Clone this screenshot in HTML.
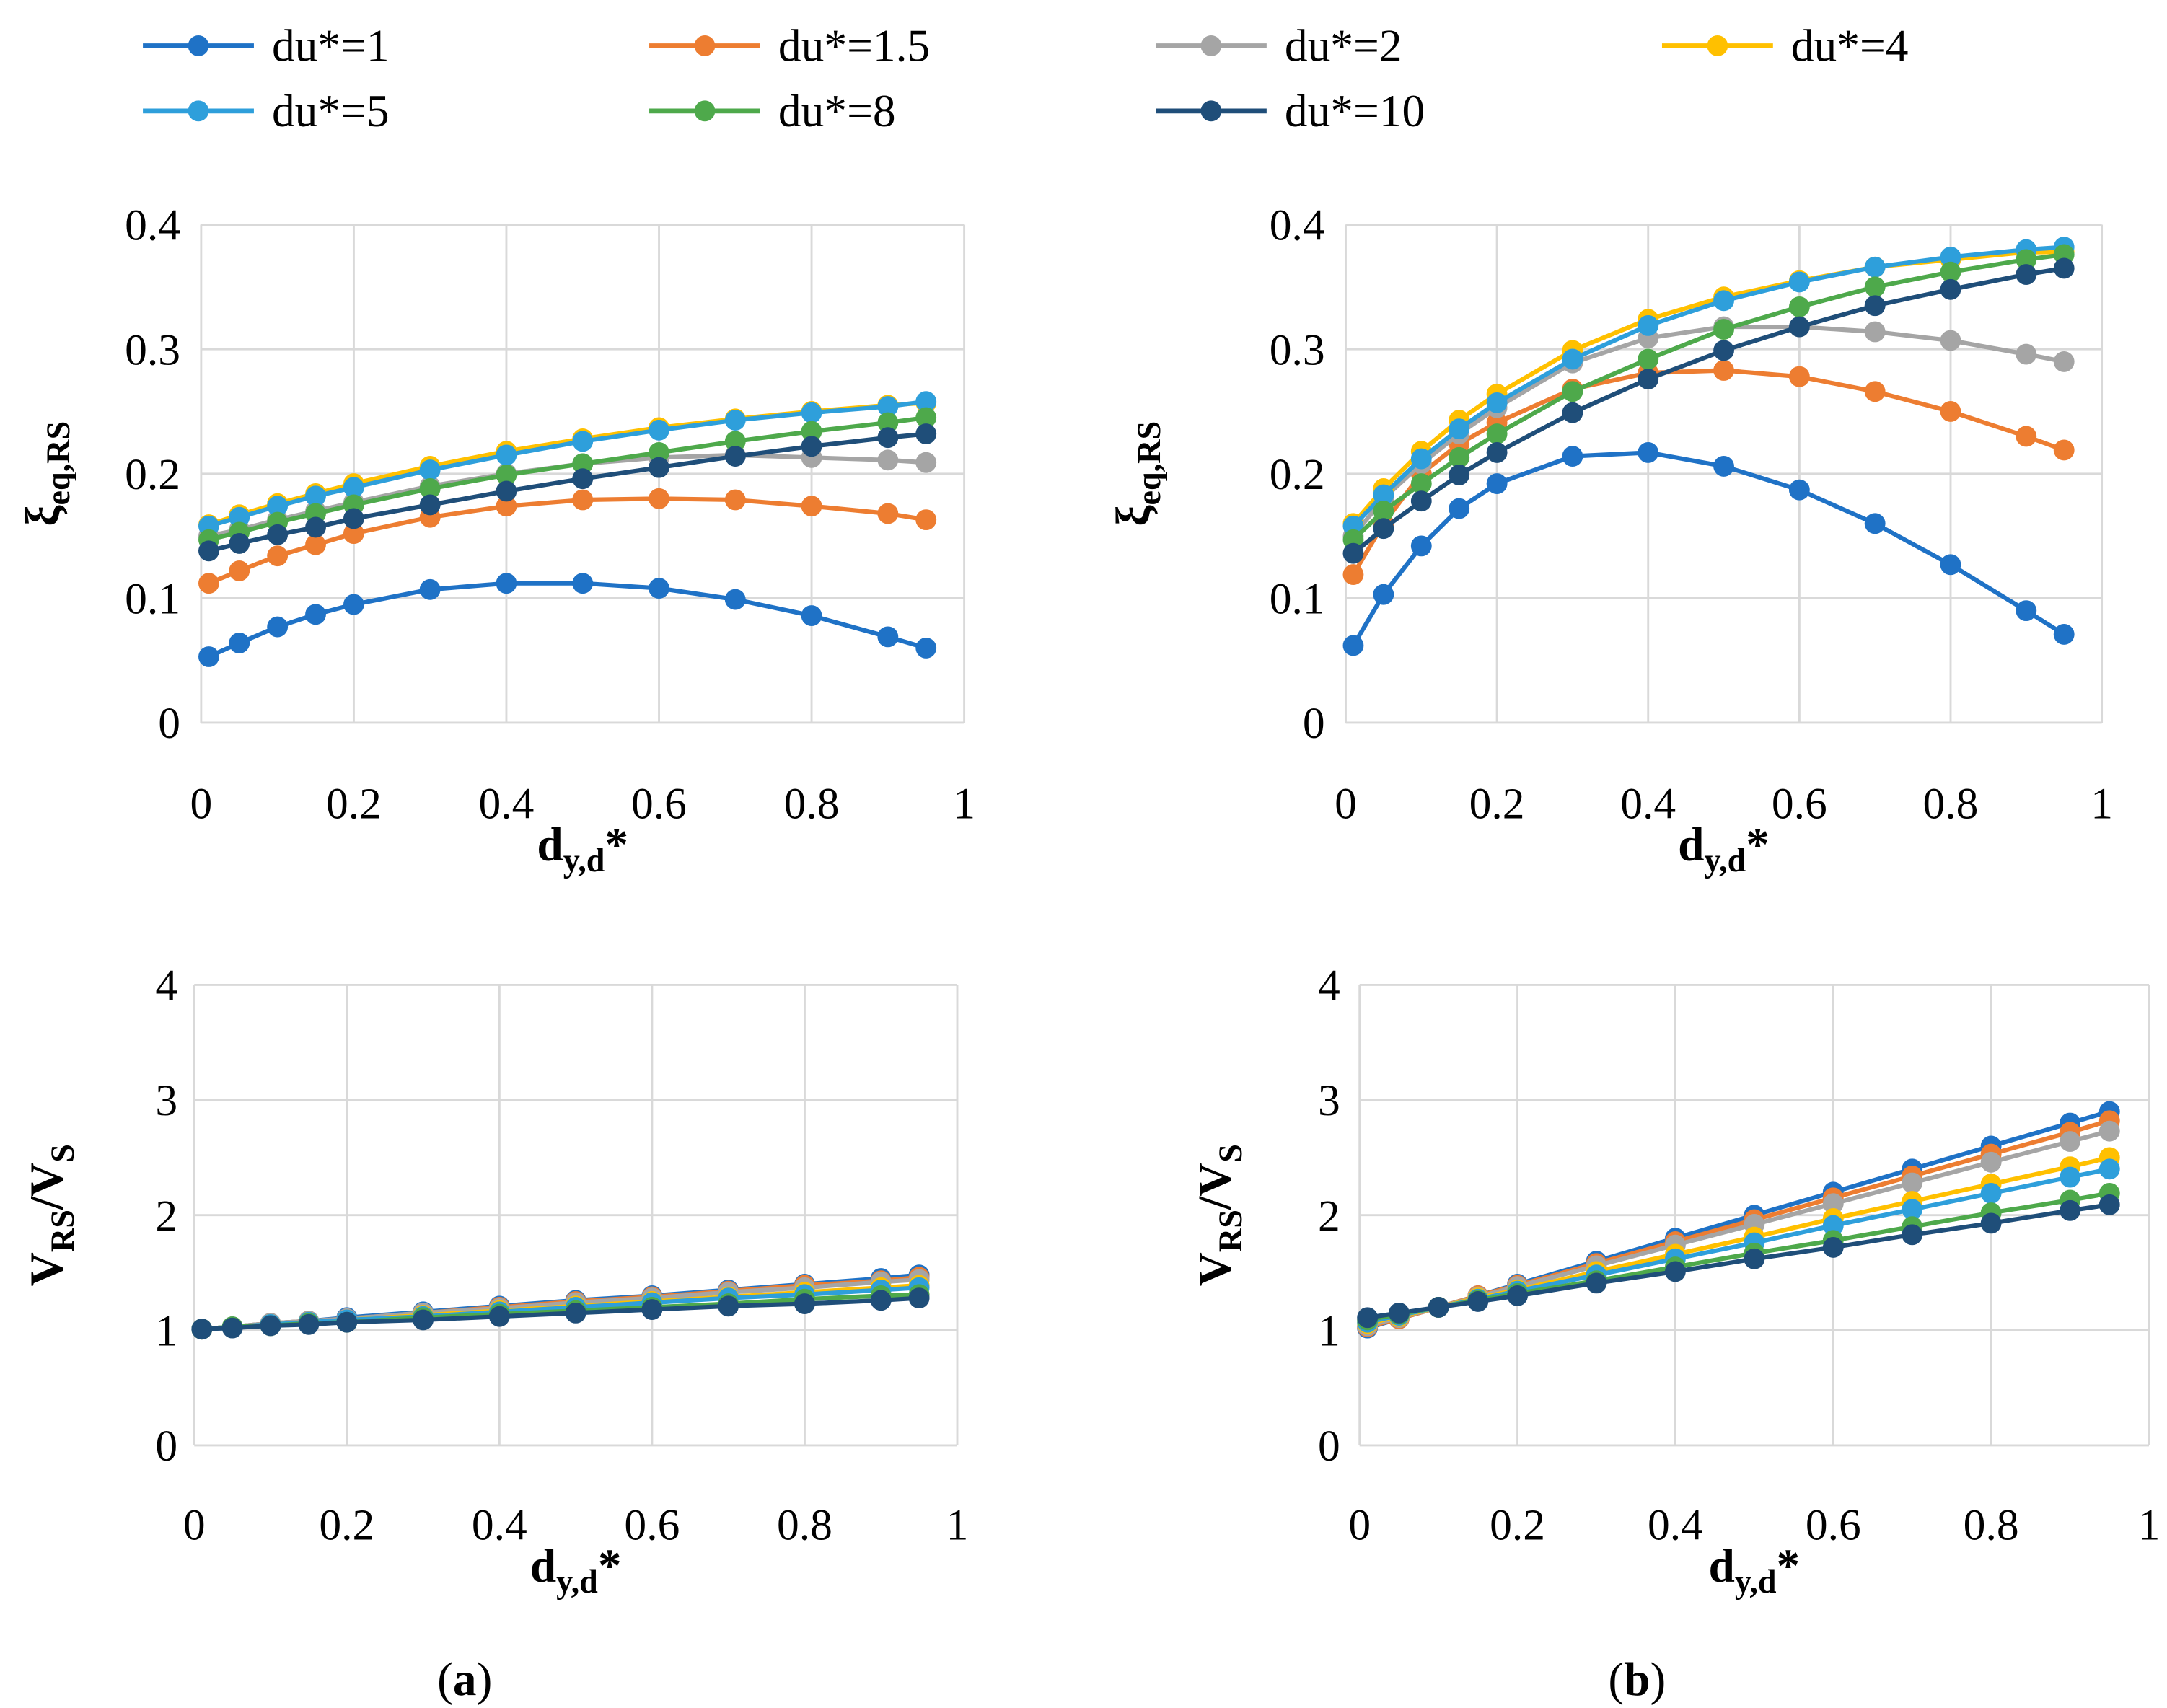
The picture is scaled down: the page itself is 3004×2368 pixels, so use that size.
<!DOCTYPE html>
<html><head><meta charset="utf-8">
<style>
html,body{margin:0;padding:0;background:#fff;}
svg{display:block;font-family:"Liberation Serif",serif;}
text{font-family:"Liberation Serif",serif;fill:#000;}
</style></head>
<body>
<svg id="root" width="3004" height="2368" viewBox="0 0 1562 1231.3" font-family="Liberation Serif, serif" xmlns="http://www.w3.org/2000/svg"></svg>
<script>
const xVals=[0.01,0.05,0.1,0.15,0.2,0.3,0.4,0.5,0.6,0.7,0.8,0.9,0.95];
const seriesNames=["du*=1","du*=1.5","du*=2","du*=4","du*=5","du*=8","du*=10"];
const seriesColors=["#1f72c6","#ed7d31","#a5a5a5","#ffc000","#2e9fdb","#4ea94b","#1f4e79"];
const aXi_du1=[0.053,0.064,0.077,0.087,0.095,0.107,0.112,0.112,0.108,0.099,0.086,0.069,0.060];
const aXi_du15=[0.112,0.122,0.134,0.143,0.152,0.165,0.174,0.179,0.180,0.179,0.174,0.168,0.163];
const aXi_du2=[0.150,0.155,0.163,0.170,0.177,0.190,0.200,0.208,0.213,0.215,0.213,0.211,0.209];
const aXi_du4=[0.159,0.167,0.176,0.184,0.192,0.206,0.218,0.228,0.237,0.244,0.250,0.255,0.257];
const aXi_du5=[0.158,0.165,0.174,0.182,0.189,0.203,0.215,0.226,0.235,0.243,0.249,0.254,0.258];
const aXi_du8=[0.147,0.153,0.161,0.168,0.175,0.188,0.199,0.208,0.217,0.226,0.234,0.241,0.245];
const aXi_du10=[0.138,0.144,0.151,0.157,0.164,0.175,0.186,0.196,0.205,0.214,0.222,0.229,0.232];
const bXi_du1=[0.062,0.103,0.142,0.172,0.192,0.214,0.217,0.206,0.187,0.160,0.127,0.090,0.071];
const bXi_du15=[0.119,0.160,0.200,0.224,0.241,0.268,0.281,0.283,0.278,0.266,0.250,0.230,0.219];
const bXi_du2=[0.150,0.180,0.208,0.232,0.253,0.289,0.309,0.318,0.318,0.314,0.307,0.296,0.290];
const bXi_du4=[0.160,0.188,0.218,0.243,0.264,0.299,0.324,0.342,0.355,0.366,0.372,0.378,0.378];
const bXi_du5=[0.158,0.183,0.212,0.236,0.257,0.292,0.319,0.339,0.354,0.366,0.374,0.380,0.382];
const bXi_du8=[0.147,0.170,0.192,0.213,0.232,0.266,0.292,0.316,0.334,0.350,0.362,0.372,0.376];
const bXi_du10=[0.136,0.156,0.178,0.199,0.217,0.249,0.276,0.299,0.318,0.335,0.348,0.360,0.365];
const aV_du1=[1.01,1.03,1.06,1.08,1.11,1.16,1.21,1.26,1.30,1.35,1.40,1.45,1.48];
const aV_du15=[1.01,1.03,1.06,1.08,1.10,1.15,1.20,1.25,1.29,1.34,1.39,1.43,1.46];
const aV_du2=[1.01,1.03,1.06,1.08,1.10,1.15,1.19,1.24,1.28,1.33,1.37,1.42,1.44];
const aV_du4=[1.01,1.03,1.05,1.07,1.09,1.13,1.17,1.21,1.25,1.29,1.33,1.37,1.39];
const aV_du5=[1.01,1.03,1.05,1.07,1.09,1.12,1.16,1.20,1.24,1.28,1.31,1.35,1.37];
const aV_du8=[1.01,1.03,1.04,1.06,1.07,1.11,1.14,1.17,1.20,1.23,1.27,1.30,1.31];
const aV_du10=[1.01,1.02,1.04,1.05,1.07,1.09,1.12,1.15,1.18,1.21,1.23,1.26,1.28];
const bV_du1=[1.02,1.10,1.20,1.30,1.40,1.60,1.80,2.00,2.20,2.40,2.60,2.80,2.90];
const bV_du15=[1.03,1.10,1.20,1.30,1.39,1.58,1.77,1.96,2.15,2.34,2.53,2.72,2.82];
const bV_du2=[1.04,1.11,1.20,1.29,1.38,1.56,1.74,1.92,2.10,2.28,2.46,2.64,2.73];
const bV_du4=[1.06,1.12,1.20,1.28,1.35,1.51,1.66,1.81,1.97,2.12,2.27,2.42,2.50];
const bV_du5=[1.07,1.13,1.20,1.27,1.34,1.48,1.62,1.76,1.91,2.05,2.19,2.33,2.40];
const bV_du8=[1.09,1.14,1.20,1.26,1.32,1.43,1.55,1.67,1.78,1.90,2.02,2.13,2.19];
const bV_du10=[1.11,1.15,1.20,1.25,1.30,1.41,1.51,1.62,1.72,1.83,1.93,2.04,2.09];
const xTicks=["0","0.2","0.4","0.6","0.8","1"];
const xiTicks=["0","0.1","0.2","0.3","0.4"];
const vTicks=["0","1","2","3","4"];

const NS="http://www.w3.org/2000/svg";
const root=document.getElementById('root');
function mk(tag,attrs,parent){const e=document.createElementNS(NS,tag);for(const k in attrs)e.setAttribute(k,attrs[k]);(parent||root).appendChild(e);return e;}
const FF='Liberation Serif, serif';

const lg=mk('g',{});


seriesNames.forEach((n,i)=>{
  const col=i<4?i:i-4, row=i<4?0:1;
  const x0=103+col*365, y0=33+row*47;
  const g=mk('g',{},lg);
  
  
  mk('line',{x1:x0,y1:y0,x2:x0+80,y2:y0,stroke:seriesColors[i],'stroke-width':3.5},g);
  mk('circle',{cx:x0+40,cy:y0,r:7.5,fill:seriesColors[i]},g);
  const t=mk('text',{x:x0+93,y:y0+11,'font-size':33,'font-family':FF},g);t.textContent=n;
});

function chart(name,box,ymax,yTicks,data,xTitleY,yTitle,yTitleX,yLabX,xLabY){
  const g=mk('g',{});
  
  
  const X=v=>box.x0+(box.x1-box.x0)*v;
  const Y=v=>box.y1-(box.y1-box.y0)*v/ymax;
  const grid=mk('g',{},g);
  
  
  yTicks.forEach((t,i)=>{const v=ymax*i/(yTicks.length-1);
    mk('line',{x1:box.x0,x2:box.x1,y1:Y(v),y2:Y(v),stroke:'#d9d9d9','stroke-width':1.5},grid);
    const tx=mk('text',{x:yLabX,y:Y(v)+11,'font-size':32,'text-anchor':'end','font-family':FF},g);tx.textContent=t;
    
    
  });
  xTicks.forEach((t,i)=>{const v=i/(xTicks.length-1);
    mk('line',{x1:X(v),x2:X(v),y1:box.y0,y2:box.y1,stroke:'#d9d9d9','stroke-width':1.5},grid);
    const tx=mk('text',{x:X(v),y:xLabY,'font-size':32,'text-anchor':'middle','font-family':FF},g);tx.textContent=t;
    
    
  });
  data.forEach((arr,si)=>{
    const sg=mk('g',{},g);
    
    
    mk('polyline',{points:arr.map((v,i)=>X(xVals[i])+','+Y(v)).join(' '),fill:'none',stroke:seriesColors[si],'stroke-width':3.2,'stroke-linejoin':'round'},sg);
    arr.forEach((v,i)=>{const c=mk('circle',{cx:X(xVals[i]),cy:Y(v),r:7.5,fill:seriesColors[si]},sg);
      
      });
  });
  const xt=mk('text',{x:(box.x0+box.x1)/2,y:xTitleY,'font-size':34,'font-weight':'bold','text-anchor':'middle','font-family':FF},g);
  
  
  xt.innerHTML='d<tspan font-size="24" dy="8">y,d</tspan><tspan dy="-8">*</tspan>';
  const cy=(box.y0+box.y1)/2;
  const yt=mk('text',{x:0,y:0,'font-size':34,'font-weight':'bold','text-anchor':'middle','font-family':FF,transform:`translate(${yTitleX},${cy}) rotate(-90)`},g);
  
  
  yt.innerHTML=yTitle;
}
const xiTitle='ξ<tspan font-size="24" dy="8">eq,RS</tspan>';
const vTitle='V<tspan font-size="24" dy="8">RS</tspan><tspan dy="-8">/V</tspan><tspan font-size="24" dy="8">S</tspan>';
chart('chart-a-damping',{x0:145,x1:695,y0:162,y1:521},0.4,xiTicks,[aXi_du1,aXi_du15,aXi_du2,aXi_du4,aXi_du5,aXi_du8,aXi_du10],620,xiTitle,42,130,590);
chart('chart-b-damping',{x0:970,x1:1515,y0:162,y1:521},0.4,xiTicks,[bXi_du1,bXi_du15,bXi_du2,bXi_du4,bXi_du5,bXi_du8,bXi_du10],620,xiTitle,828,955,590);
chart('chart-a-strength',{x0:140,x1:690,y0:710,y1:1042},4,vTicks,[aV_du1,aV_du15,aV_du2,aV_du4,aV_du5,aV_du8,aV_du10],1140,vTitle,45,128,1110);
chart('chart-b-strength',{x0:980,x1:1549,y0:710,y1:1042},4,vTicks,[bV_du1,bV_du15,bV_du2,bV_du4,bV_du5,bV_du8,bV_du10],1140,vTitle,887,966,1110);
const la=mk('text',{x:335,y:1222,'font-size':34,'text-anchor':'middle','font-family':FF});la.innerHTML='(<tspan font-weight="bold">a</tspan>)';


const lb=mk('text',{x:1180,y:1222,'font-size':34,'text-anchor':'middle','font-family':FF});lb.innerHTML='(<tspan font-weight="bold">b</tspan>)';


</script>
</body></html>
